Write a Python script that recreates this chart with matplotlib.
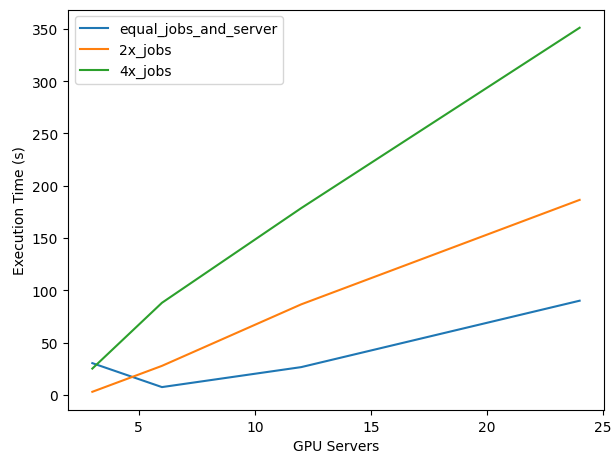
import matplotlib
matplotlib.use("Agg")
import matplotlib.pyplot as plt

servers = [3, 6, 12, 24]
equal_jobs_and_server = [30.3, 7.4, 26.5, 90.0]
jobs_2x = [2.9, 27.7, 86.5, 186.4]
jobs_4x = [25.1, 88.0, 178.5, 351.0]

fig = plt.figure(figsize=(6.14, 4.52), dpi=100)
ax = fig.add_axes([0.1107, 0.0907, 0.873, 0.886])
ax.plot(servers, equal_jobs_and_server, label="equal_jobs_and_server")
ax.plot(servers, jobs_2x, label="2x_jobs")
ax.plot(servers, jobs_4x, label="4x_jobs")
ax.set_xlabel("GPU Servers")
ax.set_ylabel("Execution Time (s)")
ax.legend(loc="upper left")
fig.savefig("out.png", dpi=100)
